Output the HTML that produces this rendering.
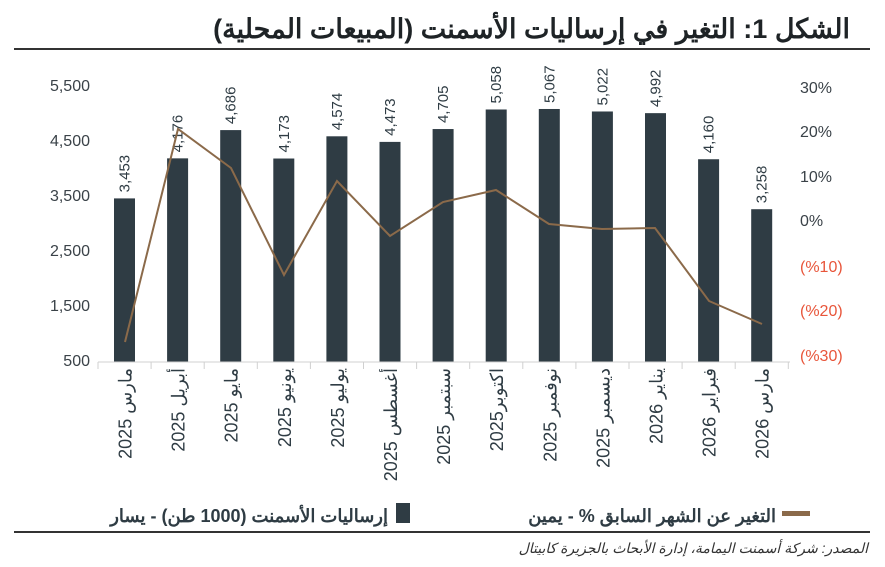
<!DOCTYPE html>
<html><head><meta charset="utf-8"><style>
body{margin:0;background:#fff;}
svg{display:block;font-family:"Liberation Sans","Noto Sans CJK SC",sans-serif;}
</style></head><body>
<svg width="885" height="567" viewBox="0 0 885 567">
<text x="850" y="38" text-anchor="end" font-size="27" font-weight="bold" fill="#1e2326">الشكل 1: التغير في إرساليات الأسمنت (المبيعات المحلية)</text>
<line x1="14" y1="49" x2="870" y2="49" stroke="#333" stroke-width="2"/>
<g font-size="16" fill="#3a4248" text-anchor="end">
<text x="90" y="91">5,500</text><text x="90" y="146">4,500</text><text x="90" y="201">3,500</text>
<text x="90" y="256">2,500</text><text x="90" y="311">1,500</text><text x="90" y="366">500</text>
</g>
<g font-size="16" text-anchor="start">
<text x="800" y="93" fill="#3a4248">30%</text><text x="800" y="137" fill="#3a4248">20%</text>
<text x="800" y="182" fill="#3a4248">10%</text><text x="800" y="226" fill="#3a4248">0%</text>
<text x="800" y="272" fill="#e8553a">(%10)</text><text x="800" y="316" fill="#e8553a">(%20)</text>
<text x="800" y="361" fill="#e8553a">(%30)</text>
</g>
<g id="bars" fill="#2f3c44"></g>
<g id="vals" font-size="15" fill="#2f3c44"></g>
<line x1="98" y1="362" x2="790" y2="362" stroke="#d0d0d0" stroke-width="1"/>
<g id="ticks" stroke="#d0d0d0"></g>
<polyline fill="none" stroke="#8b6a4a" stroke-width="2" points="125,342 178,129 231,168 284,275 337,181 390,236 443,202 496,190 549,224 602,229 655,228 709,301 762,324"/>
<g id="xl" font-size="18" fill="#2f3c44"></g>
<rect x="782" y="511" width="28" height="5" fill="#8b6a4a"/>
<text x="776" y="522" text-anchor="end" font-size="18" font-weight="bold" fill="#2f3c44">التغير عن الشهر السابق % - يمين</text>
<rect x="396" y="503" width="14" height="20" fill="#2f3c44"/>
<text x="388" y="522" text-anchor="end" font-size="18" font-weight="bold" fill="#2f3c44">إرساليات الأسمنت (1000 طن) - يسار</text>
<line x1="14" y1="532" x2="870" y2="532" stroke="#333" stroke-width="2"/>
<text x="868" y="553" text-anchor="end" font-size="14" font-style="italic" fill="#333">المصدر: شركة أسمنت اليمامة، إدارة الأبحاث بالجزيرة كابيتال</text>
<script>
var v=[3453,4176,4686,4173,4574,4473,4705,5058,5067,5022,4992,4160,3258];
var lab=["مارس 2025","أبريل 2025","مايو 2025","يونيو 2025","يوليو 2025","أغسطس 2025","سبتمبر 2025","اكتوبر2025","نوفمبر 2025","ديسمبر 2025","يناير 2026","فبراير 2026","مارس 2026"];
var ns="http://www.w3.org/2000/svg";
function el(t,a,p,txt){var e=document.createElementNS(ns,t);for(var k in a)e.setAttribute(k,a[k]);if(txt)e.textContent=txt;document.getElementById(p).appendChild(e);}
for(var i=0;i<13;i++){
 var cx=124.5+i*53.1;var y=362-(v[i]-500)*0.0554;
 el("rect",{x:cx-10.5,y:y,width:21,height:362-y},"bars");
 el("text",{x:0,y:0,transform:"translate("+(cx+5)+","+(y-6)+") rotate(-90)"},"vals",v[i].toLocaleString("en-US"));
 el("line",{x1:98+i*53.1,y1:362,x2:98+i*53.1,y2:369},"ticks");
 el("text",{x:0,y:0,"text-anchor":"end",transform:"translate("+(cx+7)+",368) rotate(-90)"},"xl",lab[i]);
}
el("line",{x1:98+13*53.1,y1:362,x2:98+13*53.1,y2:369},"ticks");
</script>
</svg>
</body></html>
